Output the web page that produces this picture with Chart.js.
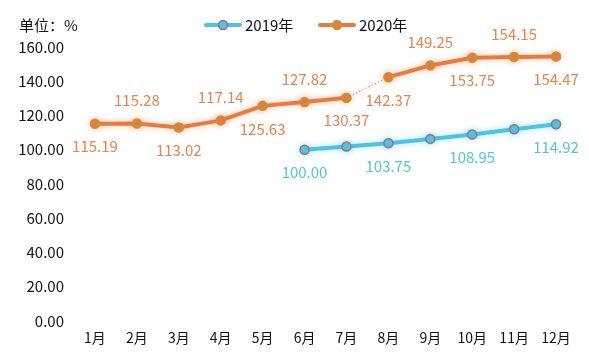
<!DOCTYPE html>
<html>
<head>
<meta charset="utf-8">
<script src="https://cdn.jsdelivr.net/npm/chart.js@4/dist/chart.umd.min.js"></script>
<style>
  html, body { margin: 0; padding: 0; background: #fff; }
  #wrap { width: 589px; height: 363px; position: relative; }
</style>
</head>
<body>
<div id="wrap"><canvas id="c"></canvas></div>
<script>
const FONT = '"Noto Sans CJK SC", "Noto Sans", sans-serif'

const months   = ['1月','2月','3月','4月','5月','6月','7月','8月','9月','10月','11月','12月']
const yTicks   = [0, 20, 40, 60, 80, 100, 120, 140, 160]
const unitText = '单位：%'

const s2019Name = '2019年'
const s2019     = [null, null, null, null, null, 100.00, 101.87, 103.75, 106.33, 108.95, 111.92, 114.92]
const s2019Lbl  = [false, false, false, false, false, true, false, true, false, true, false, true]

const s2020Name = '2020年'
const s2020     = [115.19, 115.28, 113.02, 117.14, 125.63, 127.82, 130.37, 142.37, 149.25, 153.75, 154.15, 154.47]
const s2020Lbl  = [true, true, true, true, true, true, true, true, true, true, true, true]

// label side per point: -1 above, 1 below
const s2019Side = [1, 1, 1, 1, 1, 1, 1, 1, 1, 1, 1, 1]
const s2020Side = [1, -1, 1, -1, 1, -1, 1, 1, -1, 1, -1, 1]

const BLUE   = '#4cc4e6'
const ORANGE = '#ec7a3a'

const glowPlugin = {
  id: 'glow',
  beforeDatasetDraw(chart, args) {
    const ctx = chart.ctx
    ctx.save()
    ctx.shadowColor = args.index === 0 ? 'rgba(76,196,230,0.45)' : 'rgba(236,122,58,0.45)'
    ctx.shadowBlur = 6
  },
  afterDatasetDraw(chart) { chart.ctx.restore() }
}

const labelPlugin = {
  id: 'labels',
  afterDatasetsDraw(chart) {
    const ctx = chart.ctx
    ctx.save()
    ctx.font = '15px ' + FONT
    ctx.textAlign = 'center'
    ctx.textBaseline = 'middle'
    const cfg = [
      { show: s2019Lbl, side: s2019Side, color: '#52c3e3' },
      { show: s2020Lbl, side: s2020Side, color: '#e9834d' }
    ]
    chart.data.datasets.forEach((ds, di) => {
      const meta = chart.getDatasetMeta(di)
      meta.data.forEach((pt, i) => {
        const v = ds.data[i]
        if (v == null || !cfg[di].show[i]) return
        ctx.fillStyle = cfg[di].color
        ctx.fillText(v.toFixed(2), pt.x, pt.y + cfg[di].side[i] * 23)
      })
    })

    // unit title and legend
    ctx.fillStyle = '#111'
    ctx.font = '15px ' + FONT
    ctx.textAlign = 'left'
    ctx.fillText(unitText, 19, 25)

    const items = [
      { x: 206, name: s2019Name, line: BLUE, fill: BLUE, border: '#9e6f78' },
      { x: 320, name: s2020Name, line: ORANGE, fill: ORANGE, border: '#a8a048' }
    ]
    items.forEach(it => {
      ctx.strokeStyle = it.line
      ctx.lineWidth = 4
      ctx.lineCap = 'round'
      ctx.beginPath(); ctx.moveTo(it.x, 25); ctx.lineTo(it.x + 34, 25); ctx.stroke()
      ctx.beginPath(); ctx.arc(it.x + 17, 25, 4.5, 0, Math.PI * 2)
      ctx.fillStyle = it.fill; ctx.fill()
      ctx.lineWidth = 1.5; ctx.strokeStyle = it.border; ctx.stroke()
      ctx.fillStyle = '#111'
      ctx.fillText(it.name, it.x + 39, 25)
    })
    ctx.restore()
  }
}

new Chart(document.getElementById('c'), {
  type: 'line',
  data: {
    labels: months,
    datasets: [
      {
        label: s2019Name,
        data: s2019,
        borderColor: BLUE,
        borderWidth: 4,
        pointRadius: 4.5,
        pointBackgroundColor: BLUE,
        pointBorderColor: '#a86e74',
        pointBorderWidth: 1.5,
        tension: 0
      },
      {
        label: s2020Name,
        data: s2020,
        borderColor: ORANGE,
        borderWidth: 4,
        pointRadius: 4.5,
        pointBackgroundColor: ORANGE,
        pointBorderColor: '#a8a048',
        pointBorderWidth: 1.5,
        tension: 0,
        segment: {
          borderWidth: c => c.p0DataIndex === 6 ? 1 : 4,
          borderDash: c => c.p0DataIndex === 6 ? [1.5, 2] : undefined
        }
      }
    ]
  },
  options: {
    responsive: true,
    maintainAspectRatio: false,
    animation: false,
    layout: { padding: { top: 47, right: 12, left: 0, bottom: 0 } },
    scales: {
      x: {
        offset: true,
        grid: { display: false, drawTicks: false },
        border: { display: false },
        ticks: { color: '#111', font: { size: 14, family: FONT }, padding: 8, maxRotation: 0, autoSkip: false },
        afterFit: s => { s.height = 42 }
      },
      y: {
        min: 0, max: 160,
        afterBuildTicks: s => { s.ticks = yTicks.map(v => ({ value: v })) },
        grid: { display: false, drawTicks: false },
        border: { display: false },
        ticks: { color: '#111', font: { size: 15, family: FONT }, padding: 10, callback: v => v.toFixed(2) },
        afterFit: s => { s.width = 74 }
      }
    },
    plugins: {
      legend: { display: false },
      tooltip: { enabled: false }
    }
  },
  plugins: [glowPlugin, labelPlugin]
})
</script>
</body>
</html>
